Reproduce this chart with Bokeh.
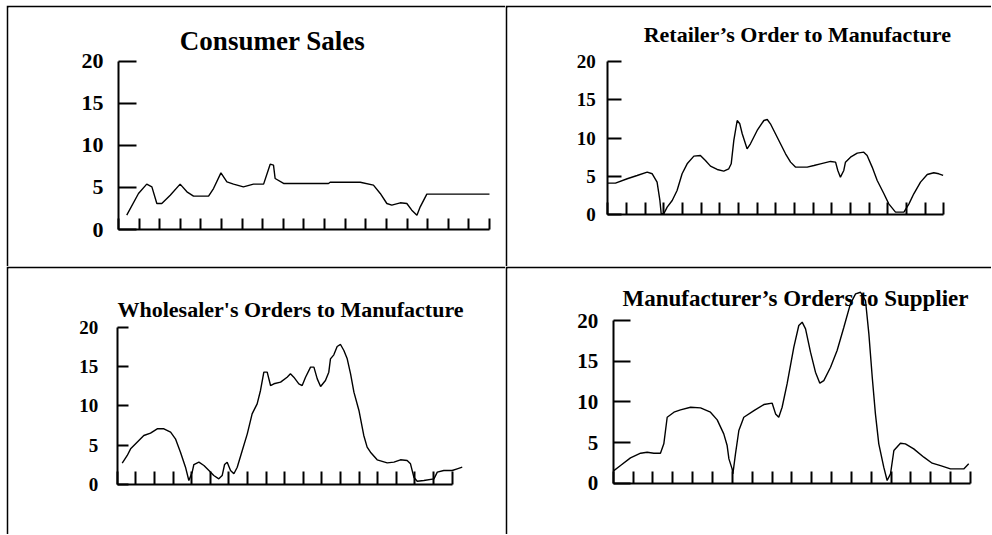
from bokeh.plotting import figure
from bokeh.models import FixedTicker, Range1d, Label, Spacer
from bokeh.layouts import column, row
from bokeh.embed import file_html
from bokeh.resources import INLINE

# ---------------- data ----------------
y_ticks = [0, 5, 10, 15, 20]
x_ticks = list(range(0, 19))

titles = ["Consumer Sales",
          "Retailer\u2019s Order to Manufacture",
          "Wholesaler's Orders to Manufacture",
          "Manufacturer\u2019s Orders to Supplier"]

consumer_x = [0.40, 0.97, 1.37, 1.62, 1.86, 2.10, 2.51, 2.99, 3.32, 3.64, 4.37, 4.61, 4.97, 5.26, 5.58, 6.06, 6.55, 7.04,
              7.36, 7.52, 7.60, 8.01, 10.19, 10.27, 11.73, 12.37, 12.70, 13.02, 13.26, 13.67, 13.99, 14.23, 14.48, 14.64,
              14.96, 18.0]
consumer_y = [1.70, 4.28, 5.39, 5.07, 3.09, 3.09, 4.08, 5.39, 4.48, 3.96, 3.96, 4.87, 6.73, 5.66, 5.39, 5.07, 5.39, 5.39,
              7.76, 7.64, 6.06, 5.47, 5.47, 5.62, 5.62, 5.27, 4.28, 3.09, 2.89, 3.17, 3.09, 2.30, 1.70, 2.69, 4.20, 4.20]

retail_x = [0, 0.41, 1.04, 1.57, 2.11, 2.38, 2.64, 2.79, 2.86, 3.0,
            3.18, 3.45, 3.71, 3.98, 4.25, 4.61, 4.96, 5.23, 5.50, 5.86,
            6.21, 6.48, 6.61, 6.75, 6.93, 7.07, 7.20, 7.46, 7.64, 8.0,
            8.36, 8.54, 8.71, 8.98, 9.25, 9.52, 9.79, 10.05, 10.32, 10.68,
            11.04, 11.39, 11.93, 12.20, 12.32, 12.46, 12.64, 12.73, 13.0, 13.36,
            13.71, 13.89, 14.16, 14.43, 14.79, 15.05, 15.41, 15.86, 16.13, 16.39,
            16.75, 17.11, 17.46, 17.73, 17.96]
retail_y = [4.13, 4.13, 4.70, 5.13, 5.57, 5.35, 4.26, 1.87, 0.13, 0.13,
            1.0, 1.87, 3.17, 5.35, 6.65, 7.65, 7.74, 7.09, 6.35, 5.91,
            5.70, 6.0, 6.65, 9.70, 12.30, 11.87, 10.57, 8.61, 9.26, 11.0,
            12.30, 12.43, 11.87, 10.57, 9.26, 7.96, 6.87, 6.22, 6.22, 6.22,
            6.43, 6.65, 6.96, 6.87, 5.78, 4.91, 5.78, 6.87, 7.52, 8.04,
            8.17, 7.74, 6.22, 4.48, 2.74, 1.43, 0.35, 0.35, 1.43, 2.74,
            4.26, 5.26, 5.48, 5.35, 5.13]

wholesale_x = [0.27, 0.54, 0.72, 1.07, 1.43, 1.79, 2.15, 2.51, 2.87, 3.13,
               3.40, 3.67, 3.85, 4.03, 4.12, 4.39, 4.66, 4.93, 5.19, 5.46,
               5.64, 5.77, 5.91, 6.09, 6.27, 6.45, 6.72, 6.99, 7.25, 7.52,
               7.70, 7.88, 8.06, 8.24, 8.42, 8.78, 9.13, 9.31, 9.49, 9.76,
               9.94, 10.12, 10.39, 10.57, 10.75, 10.93, 11.19, 11.37, 11.46, 11.64,
               11.82, 12.0, 12.18, 12.36, 12.54, 12.72, 12.99, 13.25, 13.43, 13.61,
               13.97, 14.51, 14.87, 15.22, 15.58, 15.76, 15.94, 16.12, 16.48, 17.02,
               17.20, 17.55, 18.0, 18.27, 18.54]
wholesale_y = [2.71, 3.69, 4.53, 5.38, 6.23, 6.53, 7.08, 7.08, 6.65, 5.81,
               4.11, 2.20, 0.51, 1.57, 2.54, 2.84, 2.42, 1.78, 1.14, 0.72,
               1.14, 2.54, 2.84, 1.78, 1.36, 2.20, 4.32, 6.44, 8.98, 10.25,
               11.95, 14.28, 14.28, 12.58, 12.80, 13.01, 13.64, 14.07, 13.64, 12.80,
               12.58, 13.64, 14.92, 14.92, 13.43, 12.46, 13.22, 14.28, 15.97, 16.48,
               17.54, 17.80, 17.03, 15.97, 14.07, 11.74, 9.41, 6.23, 4.75, 4.11,
               3.14, 2.75, 2.84, 3.14, 3.05, 2.63, 0.93, 0.42, 0.51, 0.72,
               1.57, 1.78, 1.78, 1.99, 2.20]

manuf_x = [0, 0.37, 0.87, 1.38, 1.71, 2.05, 2.38, 2.55, 2.72, 3.06,
           3.39, 3.90, 4.40, 4.90, 5.24, 5.57, 5.74, 5.83, 5.99, 6.03,
           6.16, 6.33, 6.58, 7.09, 7.59, 8.01, 8.18, 8.34, 8.51, 8.76,
           9.10, 9.35, 9.52, 9.69, 9.94, 10.19, 10.41, 10.61, 10.95, 11.28,
           11.62, 11.95, 12.21, 12.46, 12.71, 12.88, 13.05, 13.21, 13.38, 13.63,
           13.80, 13.97, 14.14, 14.47, 14.72, 15.14, 15.65, 16.07, 16.49, 16.99,
           17.66, 17.91]
manuf_y = [1.48, 2.17, 3.11, 3.69, 3.81, 3.69, 3.69, 4.84, 8.11, 8.73,
           9.02, 9.34, 9.26, 8.73, 7.79, 6.07, 4.63, 2.99, 1.76, 1.15,
           3.61, 6.48, 8.11, 8.93, 9.67, 9.84, 8.52, 8.11, 9.34, 12.21,
           16.72, 19.39, 19.80, 18.98, 16.11, 13.65, 12.30, 12.62, 14.26, 16.31,
           19.18, 22.05, 23.28, 23.48, 22.46, 18.36, 13.03, 8.52, 4.84, 1.97,
           0.33, 1.15, 4.02, 4.92, 4.84, 4.22, 3.20, 2.46, 2.17, 1.76,
           1.76, 2.38]

FONT = "Liberation Serif"


def make_panel(title, xs, ys, width, height, frame, axis_px, spacing, unit,
               ytick_len, xtick_len, lab_size, standoff, title_size, title_cx, title_base):
    fx0, fy0, fx1, fy1 = frame
    ax, ay = axis_px
    xr = Range1d((fx0 - ax) / spacing, (fx1 - ax) / spacing)
    yr = Range1d((ay - fy1) / unit, (ay - fy0) / unit)
    p = figure(width=width, height=height, x_range=xr, y_range=yr,
               output_backend="svg", toolbar_location=None, title=None,
               min_border_left=2, min_border_top=2, min_border_right=0, min_border_bottom=0,
               border_fill_color="black", background_fill_color="white",
               outline_line_color=None)
    p.xgrid.visible = False
    p.ygrid.visible = False

    ya = p.yaxis[0]
    ya.ticker = FixedTicker(ticks=y_ticks)
    ya.bounds = (0, 20)
    ya.fixed_location = 0
    ya.axis_line_width = 2
    ya.axis_line_color = "black"
    ya.major_tick_line_width = 2
    ya.major_tick_line_color = "black"
    ya.major_tick_in = ytick_len
    ya.major_tick_out = 0
    ya.minor_tick_in = 0
    ya.minor_tick_out = 0
    ya.major_label_standoff = standoff
    ya.major_label_text_font = FONT
    ya.major_label_text_font_style = "bold"
    ya.major_label_text_font_size = f"{lab_size}px"
    ya.major_label_text_color = "black"

    xa = p.xaxis[0]
    xa.ticker = FixedTicker(ticks=x_ticks)
    xa.bounds = (0, 18)
    xa.fixed_location = 0
    xa.axis_line_width = 2
    xa.axis_line_color = "black"
    xa.major_tick_line_width = 2
    xa.major_tick_line_color = "black"
    xa.major_tick_in = xtick_len
    xa.major_tick_out = 0
    xa.minor_tick_in = 0
    xa.minor_tick_out = 0
    xa.major_label_text_color = None
    xa.major_label_text_font_size = "1px"

    p.line(xs, ys, line_color="black", line_width=1.4)

    p.add_layout(Label(x=(title_cx - ax) / spacing, y=(ay - title_base) / unit,
                       text=title, text_align="center", text_baseline="alphabetic",
                       text_font=FONT, text_font_style="bold",
                       text_font_size=f"{title_size}px", text_color="black"))
    return p


p1 = make_panel(titles[0], consumer_x, consumer_y, 499, 261, (8, 7, 505, 266),
                (118, 229), 20.61, 8.417, 18, 11, 22, 15, 27, 272, 40)
p2 = make_panel(titles[1], retail_x, retail_y, 486, 261, (507, 7, 991, 266),
                (607.3, 214.3), 18.67, 7.667, 14, 12, 19, 12, 22, 797, 34)
p3 = make_panel(titles[2], wholesale_x, wholesale_y, 499, 268, (8, 268, 505, 534),
                (116.7, 484), 18.61, 7.867, 11, 13, 19, 19, 22, 290, 309)
p4 = make_panel(titles[3], manuf_x, manuf_y, 486, 268, (507, 268, 991, 534),
                (612.7, 482.7), 19.85, 8.133, 17, 12, 21, 15, 23, 795, 298)

grid = column(row(p1, p2, spacing=0), row(p3, p4, spacing=0), spacing=0)
layout = column(Spacer(height=5), row(Spacer(width=6), grid, spacing=0), spacing=0)

open("out.html", "w").write(file_html(layout, INLINE))
